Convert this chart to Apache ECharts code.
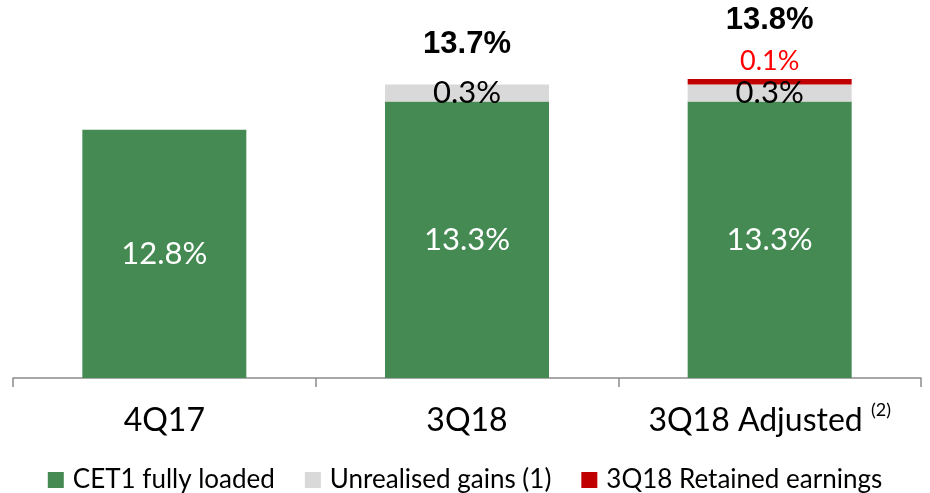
<!DOCTYPE html>
<html>
<head>
<meta charset="utf-8">
<script src="https://cdn.jsdelivr.net/npm/echarts@6/dist/echarts.min.js"></script>
<style>
  html, body { margin: 0; padding: 0; background: #fff; }
  #chart { width: 930px; height: 493px; }
</style>
</head>
<body>
<div id="chart"></div>
<script>
// Capital ratio build-up per period
const categories = ['4Q17', '3Q18', '3Q18 Adjusted'];
const cet1 = [12.8, 13.3, 13.3];
const unrealisedGains = [null, 0.3, 0.3];
const retainedEarnings = [null, null, 0.1];
const totalLabels = [null, '13.7%', '13.8%'];
const seriesNames = ['CET1 fully loaded', 'Unrealised gains (1)', '3Q18 Retained earnings'];

const GREEN = '#448a52';
const GREY = '#d9d9d9';
const RED = '#c00000';
const BODY_FONT = 'Lato, "Open Sans", sans-serif';

// top of each stacked column, used to anchor the total labels
const stackTops = categories.map((_, i) =>
  [cet1[i], unrealisedGains[i], retainedEarnings[i]].reduce((s, v) => s + (v || 0), 0)
);
const totalOffsets = [0, -40, -58];

const chart = echarts.init(document.getElementById('chart'));

chart.setOption({
  animation: false,
  grid: { left: 13, right: 9, top: 62, bottom: 115 },
  legend: {
    data: seriesNames,
    bottom: -5,
    left: 'center',
    icon: 'rect',
    itemWidth: 16,
    itemHeight: 16,
    itemGap: 30,
    textStyle: { fontFamily: BODY_FONT, fontSize: 26, color: '#000', padding: [0, 0, 0, 4] }
  },
  xAxis: {
    type: 'category',
    data: categories,
    axisLine: { lineStyle: { color: '#8c8c8c', width: 1.5 } },
    axisTick: { show: true, length: 9, lineStyle: { color: '#8c8c8c', width: 1.5 } },
    axisLabel: {
      interval: 0,
      hideOverlap: false,
      margin: 23,
      fontFamily: BODY_FONT,
      fontSize: 32,
      lineHeight: 40,
      color: '#000',
      formatter: v => v === '3Q18 Adjusted' ? v + ' {sup|(2)}' : v,
      rich: {
        sup: {
          fontFamily: BODY_FONT, fontSize: 18, lineHeight: 18, color: '#000',
          verticalAlign: 'top', padding: [0, 0, 0, 0]
        }
      }
    }
  },
  yAxis: {
    type: 'value',
    min: 8.4,
    max: 14.0,
    show: false,
    splitLine: { show: false }
  },
  series: [
    {
      name: seriesNames[0],
      type: 'bar',
      stack: 'ratio',
      barWidth: 164,
      itemStyle: { color: GREEN },
      label: {
        show: true, position: 'inside', color: '#fff',
        fontFamily: BODY_FONT, fontSize: 31,
        formatter: p => p.value.toFixed(1) + '%'
      },
      data: cet1
    },
    {
      name: seriesNames[1],
      type: 'bar',
      stack: 'ratio',
      itemStyle: { color: GREY },
      label: {
        show: true, position: 'inside', color: '#000',
        fontFamily: BODY_FONT, fontSize: 31,
        formatter: p => p.value.toFixed(1) + '%'
      },
      data: unrealisedGains
    },
    {
      name: seriesNames[2],
      type: 'bar',
      stack: 'ratio',
      itemStyle: { color: RED },
      label: {
        show: true, position: 'top', distance: 4, color: '#ff0000',
        fontFamily: BODY_FONT, fontSize: 27,
        formatter: p => p.value.toFixed(1) + '%'
      },
      data: retainedEarnings
    },
    {
      name: 'total',
      type: 'scatter',
      symbolSize: 0,
      silent: true,
      itemStyle: { opacity: 1 },
      label: {
        show: true, position: 'inside', color: '#000',
        fontFamily: '"Liberation Sans", Arial, sans-serif', fontWeight: 'bold', fontSize: 31,
        formatter: p => totalLabels[p.dataIndex]
      },
      data: categories.map((c, i) => totalLabels[i]
        ? { value: stackTops[i], label: { offset: [0, totalOffsets[i]] } }
        : null)
    }
  ]
});
</script>
</body>
</html>
